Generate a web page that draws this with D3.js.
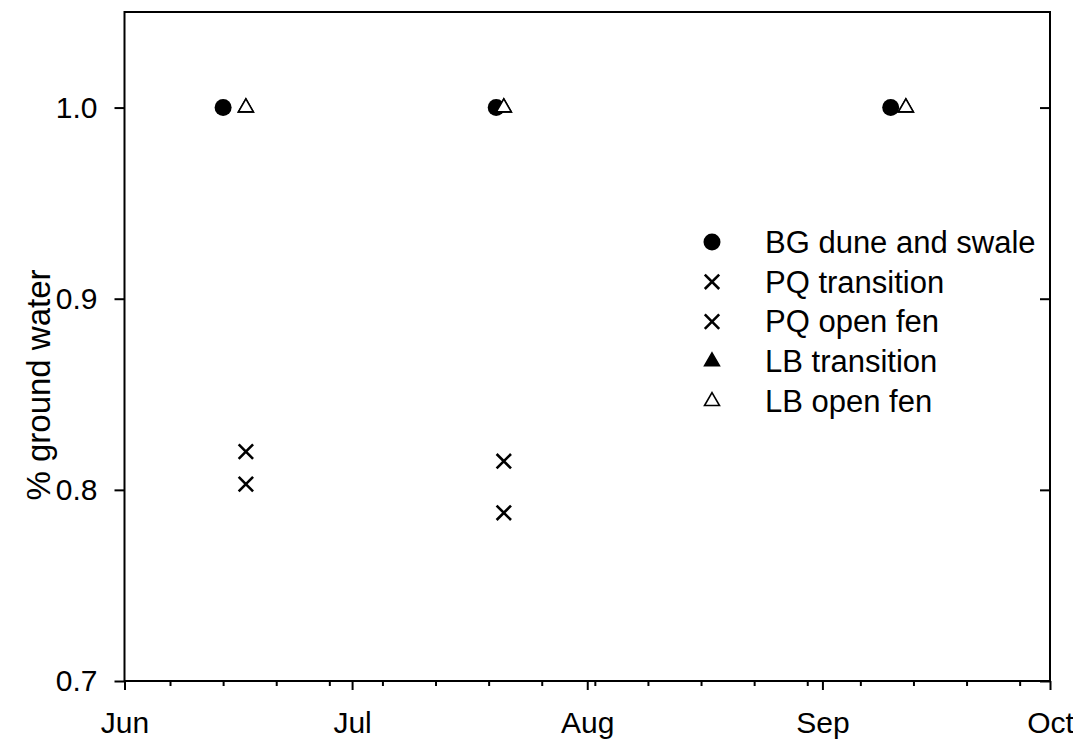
<!DOCTYPE html>
<html>
<head>
<meta charset="utf-8">
<script src="https://cdn.jsdelivr.net/npm/d3@7"></script>
<style>
  html, body { margin: 0; padding: 0; background: #fff; }
  svg { display: block; font-family: "Liberation Sans", Arial, sans-serif; }
</style>
</head>
<body>
<svg id="chart" width="1073" height="743"></svg>
<script>
// Sampling dates and ground-water fractions per site
const seriesNames = ["BG dune and swale", "PQ transition", "PQ open fen", "LB transition", "LB open fen"];
const bgDates = ["2015-06-14", "2015-07-20", "2015-09-10"];
const bgValues = [1.0, 1.0, 1.0];
const pqTransitionDates = ["2015-06-17", "2015-07-21"];
const pqTransitionValues = [0.820, 0.815];
const pqOpenFenDates = ["2015-06-17", "2015-07-21"];
const pqOpenFenValues = [0.803, 0.788];
const lbTransitionDates = ["2015-06-17", "2015-07-21", "2015-09-12"];
const lbTransitionValues = [1.0, 1.0, 1.0];
const lbOpenFenDates = ["2015-06-17", "2015-07-21", "2015-09-12"];
const lbOpenFenValues = [1.0, 1.0, 1.0];
const yTicks = [0.7, 0.8, 0.9, 1.0];
const monthLabels = ["Jun", "Jul", "Aug", "Sep", "Oct"];

const parse = d3.timeParse("%Y-%m-%d");
const zip = (ds, vs) => ds.map((d, i) => ({ date: parse(d), value: vs[i] }));

const svg = d3.select("#chart");
const plotLeft = 124.5, plotRight = 1050, plotTop = 12, plotBottom = 681;
const tickFont = 30, legendFont = 31, titleFont = 33;
const fontFamily = "Liberation Sans, Arial, sans-serif";

const x = d3.scaleTime()
  .domain([parse("2015-06-01"), parse("2015-10-01")])
  .range([plotLeft, plotRight]);
const y = d3.scaleLinear().domain([0.7, 1.05]).range([plotBottom, plotTop]);

// Frame
svg.append("rect")
  .attr("x", plotLeft).attr("y", plotTop)
  .attr("width", plotRight - plotLeft).attr("height", plotBottom - plotTop)
  .attr("fill", "none").attr("stroke", "#000").attr("stroke-width", 2);

// Weekly minor ticks on the date axis
const minor = svg.append("g").attr("transform", `translate(0,${plotBottom})`)
  .call(d3.axisBottom(x).ticks(d3.timeWeek.every(1)).tickSize(5).tickFormat(""));
minor.select(".domain").remove();
minor.selectAll("line").attr("stroke", "#000").attr("stroke-width", 2);

// Monthly major ticks with labels
const monthTicks = x.ticks(d3.timeMonth.every(1));
const major = svg.append("g").attr("transform", `translate(0,${plotBottom})`)
  .call(d3.axisBottom(x).tickValues(monthTicks).tickSize(9).tickPadding(22)
    .tickFormat((d, i) => monthLabels[i]));
major.select(".domain").remove();
major.selectAll("line").attr("stroke", "#000").attr("stroke-width", 2);
major.selectAll("text").attr("font-size", tickFont).attr("fill", "#000")
  .attr("font-family", fontFamily);

// Left value axis
const yl = svg.append("g").attr("transform", `translate(${plotLeft},0)`)
  .call(d3.axisLeft(y).tickValues(yTicks).tickSize(10).tickPadding(17).tickFormat(d3.format(".1f")));
yl.select(".domain").remove();
yl.selectAll("line").attr("stroke", "#000").attr("stroke-width", 2);
yl.selectAll("text").attr("font-size", tickFont).attr("fill", "#000")
  .attr("font-family", fontFamily);

// Right axis: inward ticks only
const yr = svg.append("g").attr("transform", `translate(${plotRight},0)`)
  .call(d3.axisLeft(y).tickValues(yTicks).tickSize(10).tickFormat(""));
yr.select(".domain").remove();
yr.selectAll("line").attr("stroke", "#000").attr("stroke-width", 2);

// Axis title
svg.append("text")
  .attr("transform", `translate(38,385) rotate(-90)`)
  .attr("text-anchor", "middle")
  .attr("dy", "0.35em")
  .attr("font-size", titleFont)
  .attr("font-family", fontFamily)
  .text("% ground water");

// Marker shapes
const circlePath = d3.symbol().type(d3.symbolCircle).size(227)();
const triPath = d3.symbol().type(d3.symbolTriangle).size(97)();
const crossPath = "M-7.2,-7.2L7.2,7.2M7.2,-7.2L-7.2,7.2";

const styles = [
  { path: circlePath, fill: "#000", stroke: "none", sw: 0 },
  { path: crossPath, fill: "none", stroke: "#000", sw: 2.6 },
  { path: crossPath, fill: "none", stroke: "#000", sw: 2.6 },
  { path: triPath, fill: "#000", stroke: "#000", sw: 1.5 },
  { path: triPath, fill: "#fff", stroke: "#000", sw: 1.6 }
];
const data = [
  zip(bgDates, bgValues),
  zip(pqTransitionDates, pqTransitionValues),
  zip(pqOpenFenDates, pqOpenFenValues),
  zip(lbTransitionDates, lbTransitionValues),
  zip(lbOpenFenDates, lbOpenFenValues)
];

data.forEach((pts, i) => {
  const st = styles[i];
  svg.append("g").selectAll("path").data(pts).join("path")
    .attr("d", st.path)
    .attr("transform", d => `translate(${x(d.date)},${y(d.value)})`)
    .attr("fill", st.fill).attr("stroke", st.stroke).attr("stroke-width", st.sw);
});

// Legend
const legend = svg.append("g");
const legY0 = 242, legStep = 39.8, symX = 712, textX = 765;
seriesNames.forEach((name, i) => {
  const st = styles[i];
  const yy = legY0 + i * legStep;
  legend.append("path").attr("d", st.path)
    .attr("transform", `translate(${symX},${yy})`)
    .attr("fill", st.fill).attr("stroke", st.stroke).attr("stroke-width", st.sw);
  legend.append("text").attr("x", textX).attr("y", yy).attr("dy", "0.35em")
    .attr("font-size", legendFont).attr("font-family", fontFamily).text(name);
});
</script>
</body>
</html>
